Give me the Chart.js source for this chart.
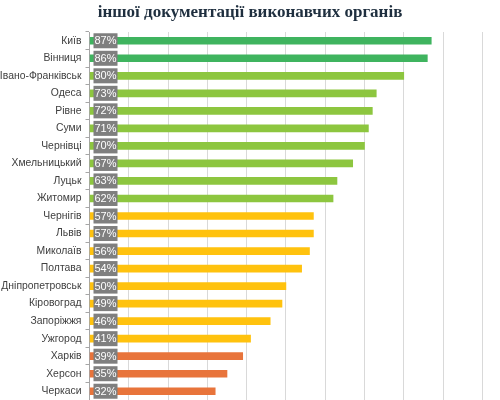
<!DOCTYPE html>
<html>
<head>
<meta charset="utf-8">
<script src="https://cdn.jsdelivr.net/npm/chart.js@4.4.1/dist/chart.umd.min.js"></script>
<style>
  html, body { margin: 0; padding: 0; background: #fff; }
  #wrap { width: 500px; height: 400px; }
</style>
</head>
<body>
<div id="wrap"><canvas id="rating-chart"></canvas></div>
<script>
var cities = ['Київ', 'Вінниця', 'Івано-Франківськ', 'Одеса', 'Рівне', 'Суми', 'Чернівці',
    'Хмельницький', 'Луцьк', 'Житомир', 'Чернігів', 'Львів', 'Миколаїв', 'Полтава',
    'Дніпропетровськ', 'Кіровоград', 'Запоріжжя', 'Ужгород', 'Харків', 'Херсон', 'Черкаси'];
var percents = [87, 86, 80, 73, 72, 71, 70, 67, 63, 62, 57, 57, 56, 54, 50, 49, 46, 41, 39, 35, 32];
var xTicks = [0, 10, 20, 30, 40, 50, 60, 70, 80, 90, 100];

function bandColor(v) {
    if (v >= 85) return '#3fb45f';
    if (v >= 60) return '#8dc63f';
    if (v >= 40) return '#ffc20e';
    return '#e8743b';
}

// grey value boxes at the start of every bar
const valueBoxes = {
    id: 'valueBoxes',
    afterDatasetsDraw(chart) {
        const ctx = chart.ctx;
        const meta = chart.getDatasetMeta(0);
        ctx.save();
        meta.data.forEach((bar, i) => {
            const x0 = bar.base + 3.5;
            ctx.fillStyle = '#7f7f7f';
            ctx.fillRect(x0, bar.y - 7.5, 24, 15);
            ctx.fillStyle = '#ffffff';
            ctx.font = '11px "Liberation Sans", Arial, sans-serif';
            ctx.textAlign = 'center';
            ctx.textBaseline = 'middle';
            ctx.fillText(percents[i] + '%', x0 + 12, bar.y + 0.5);
        });
        ctx.restore();
    }
};

const ctx = document.getElementById('rating-chart').getContext('2d');
new Chart(ctx, {
    type: 'bar',
    data: {
        labels: cities,
        datasets: [{
            data: percents,
            backgroundColor: percents.map(bandColor),
            barThickness: 7,
            borderWidth: 0
        }]
    },
    options: {
        indexAxis: 'y',
        responsive: true,
        maintainAspectRatio: false,
        animation: false,
        layout: { padding: 0, autoPadding: false },
        plugins: {
            legend: { display: false },
            tooltip: { enabled: false },
            title: {
                display: true,
                text: 'іншої документації виконавчих органів',
                color: '#1f2f3f',
                font: { family: '"Liberation Serif", "Times New Roman", serif', size: 17, weight: 'bold', lineHeight: 1.2 },
                padding: { top: 2, bottom: 9.6 }
            }
        },
        scales: {
            x: {
                min: 0,
                max: 104.5,
                afterBuildTicks: function (scale) {
                    scale.ticks = xTicks.map(v => ({ value: v }));
                },
                afterFit: function (scale) { scale.height = 0; },
                ticks: { display: false },
                grid: { color: '#d9d9d9', drawTicks: false },
                border: { display: false }
            },
            y: {
                afterFit: function (scale) {
                    scale.width = 89.5;
                    scale.paddingTop = 0;
                    scale.paddingBottom = 0;
                },
                ticks: {
                    color: '#404040',
                    padding: 4,
                    font: { family: '"Liberation Sans", Arial, sans-serif', size: 10.4 }
                },
                grid: { offset: true, drawOnChartArea: false, tickLength: 4, color: '#a6a6a6' },
                border: { display: true, color: '#a6a6a6' }
            }
        }
    },
    plugins: [valueBoxes]
});
</script>
</body>
</html>
